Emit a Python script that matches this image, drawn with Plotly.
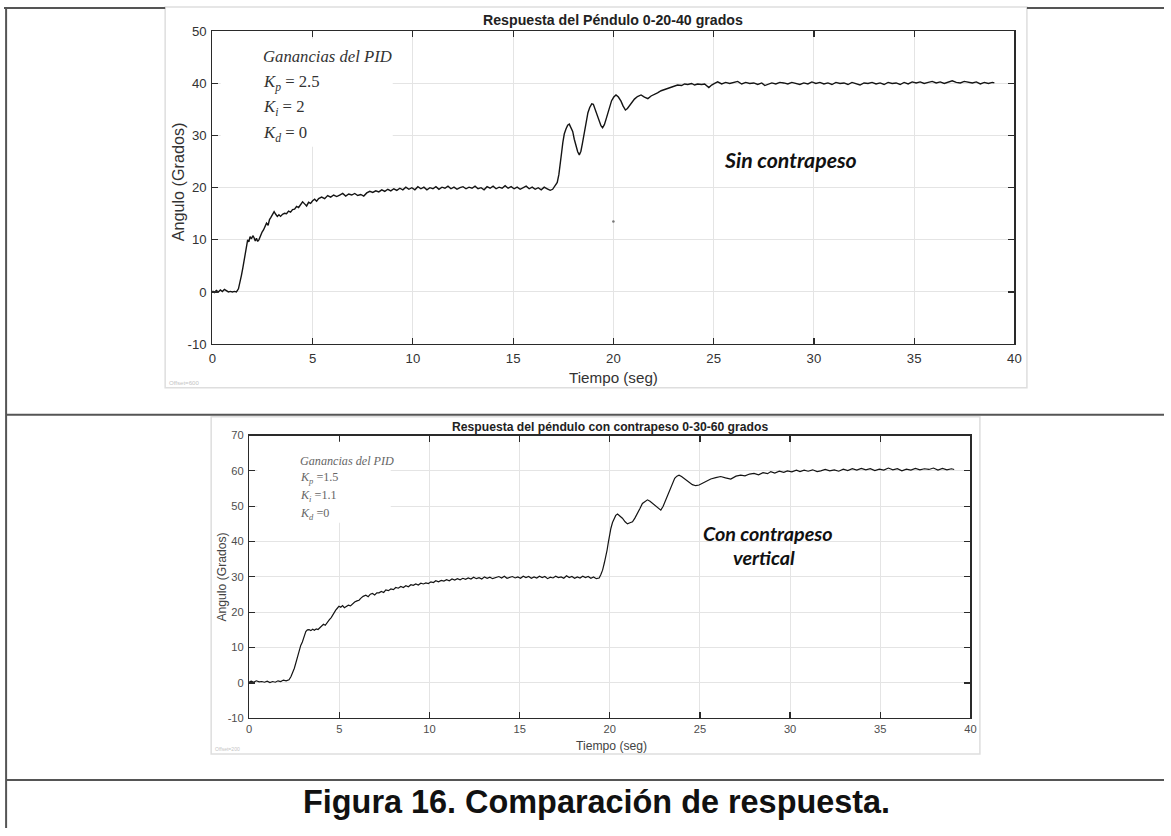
import plotly.graph_objects as go

W, H = 1171, 836

# ---------------- data ----------------
t_top = [0.00, 0.10, 0.20, 0.30, 0.40, 0.50, 0.60, 0.70, 0.80, 0.90, 1.00, 1.10, 1.20, 1.30, 1.38, 1.45,
         1.52, 1.58, 1.64, 1.70, 1.76, 1.82, 1.88, 1.95, 2.02, 2.08, 2.14, 2.20, 2.26, 2.32, 2.40, 2.48,
         2.55, 2.62, 2.70, 2.78, 2.85, 2.92, 3.00, 3.08, 3.16, 3.24, 3.32, 3.40, 3.50, 3.60, 3.70, 3.80,
         3.90, 4.00, 4.10, 4.20, 4.30, 4.40, 4.50, 4.60, 4.70, 4.80, 4.90, 5.00, 5.10, 5.20, 5.30, 5.45,
         5.60, 5.75, 5.90, 6.05, 6.20, 6.35, 6.50, 6.65, 6.80, 6.95, 7.10, 7.25, 7.40, 7.55, 7.70, 7.85,
         8.00, 8.15, 8.30, 8.45, 8.60, 8.75, 8.90, 9.05, 9.20, 9.35, 9.50, 9.65, 9.80, 9.95, 10.10, 10.25,
         10.40, 10.55, 10.70, 10.85, 11.00, 11.15, 11.30, 11.45, 11.60, 11.75, 11.90, 12.05, 12.20, 12.35,
         12.50, 12.65, 12.80, 12.95, 13.10, 13.25, 13.40, 13.55, 13.70, 13.85, 14.00, 14.15, 14.30, 14.45,
         14.60, 14.75, 14.90, 15.05, 15.20, 15.35, 15.50, 15.65, 15.80, 15.95, 16.10, 16.25, 16.40, 16.55,
         16.70, 16.85, 16.97, 17.10, 17.20, 17.28, 17.35, 17.42, 17.48, 17.55, 17.63, 17.72, 17.80, 17.88,
         17.97, 18.05, 18.13, 18.22, 18.30, 18.38, 18.46, 18.55, 18.64, 18.73, 18.82, 18.92, 19.00, 19.10,
         19.18, 19.28, 19.38, 19.46, 19.55, 19.64, 19.72, 19.82, 19.91, 20.02, 20.13, 20.25, 20.38, 20.48,
         20.60, 20.70, 20.80, 20.92, 21.05, 21.20, 21.38, 21.55, 21.72, 21.88, 22.05, 22.20, 22.38, 22.55,
         22.70, 22.88, 23.05, 23.20, 23.40, 23.55, 23.71, 23.90, 24.05, 24.20, 24.40, 24.55, 24.76, 24.90,
         25.05, 25.20, 25.40, 25.60, 25.80, 26.00, 26.20, 26.40, 26.60, 26.80, 27.00, 27.20, 27.40, 27.55,
         27.70, 27.90, 28.10, 28.30, 28.50, 28.70, 28.90, 29.10, 29.30, 29.50, 29.70, 29.90, 30.10, 30.30,
         30.50, 30.70, 30.90, 31.10, 31.30, 31.50, 31.70, 31.90, 32.10, 32.30, 32.50, 32.70, 32.90, 33.10,
         33.30, 33.50, 33.70, 33.90, 34.10, 34.30, 34.50, 34.70, 34.90, 35.10, 35.30, 35.50, 35.70, 35.90,
         36.10, 36.30, 36.50, 36.70, 36.90, 37.10, 37.30, 37.50, 37.70, 37.90, 38.10, 38.30, 38.50, 38.70,
         38.90, 39.00]
ang_top = [0.2, -0.1, 0.3, 0.0, 0.4, 0.1, 0.5, 0.2, 0.0, 0.1, 0.0, 0.1, 0.0, 0.6, 1.8, 3.2,
           4.6, 6.0, 7.6, 9.0, 10.0, 9.6, 10.6, 10.2, 10.8, 10.4, 9.8, 10.3, 9.7, 10.0, 10.8, 11.5,
           11.9, 12.6, 13.2, 12.8, 13.9, 14.3, 14.8, 15.4, 14.9, 14.5, 14.8, 14.5, 14.9, 15.1, 15.0, 15.5,
           15.3, 15.8, 15.9, 16.4, 16.2, 16.9, 17.3, 16.9, 16.5, 17.2, 17.0, 17.5, 17.8, 17.4, 17.9, 18.2,
           17.9, 18.5, 18.2, 18.6, 18.3, 18.6, 18.9, 18.4, 18.8, 18.6, 18.9, 18.5, 18.7, 18.4, 19.0, 19.3,
           19.1, 19.4, 19.2, 19.6, 19.3, 19.7, 19.4, 19.8, 19.5, 19.9, 19.6, 20.1, 19.7, 20.0, 19.6, 20.2,
           19.8, 20.1, 19.6, 20.0, 19.8, 20.2, 19.7, 20.1, 19.9, 20.3, 19.8, 20.1, 19.7, 20.0,
           20.2, 19.8, 20.1, 19.9, 20.3, 19.8, 20.0, 19.6, 20.2, 19.9, 20.3, 19.8, 20.1, 19.9,
           20.4, 19.9, 20.2, 19.8, 20.1, 19.7, 20.0, 20.3, 19.8, 20.1, 19.7, 20.0, 19.6, 20.1,
           19.8, 19.5, 19.7, 20.5, 21.0, 22.5, 24.2, 26.8, 28.7, 30.3, 31.2, 32.0, 32.2, 31.6,
           30.8, 29.3, 28.0, 26.9, 26.3, 27.0, 28.6, 30.8, 32.8, 34.4, 35.4, 36.1, 36.0, 35.0,
           34.2, 33.0, 31.9, 31.5, 32.1, 33.2, 34.4, 35.8, 36.7, 37.4, 37.8, 37.4, 36.6, 35.7,
           34.9, 35.2, 35.7, 36.3, 37.0, 37.5, 37.8, 37.4, 37.1, 37.6, 38.0, 38.2, 38.6, 38.8,
           39.0, 39.3, 39.4, 39.7, 39.6, 39.9, 39.8, 40.0, 39.7, 39.9, 39.8, 39.9, 39.2, 39.7,
           40.0, 40.3, 39.9, 40.2, 40.0, 40.2, 40.4, 39.9, 40.2, 40.0, 40.1, 39.8, 40.1, 39.6,
           39.8, 40.1, 39.9, 40.2, 40.1, 39.9, 40.2, 40.0, 39.8, 40.1, 39.9, 40.3, 40.0, 40.2,
           39.9, 40.1, 39.8, 40.2, 40.0, 40.1, 39.8, 40.2, 40.0, 39.7, 40.1, 40.0, 40.2, 39.9,
           40.1, 39.8, 40.2, 40.0, 40.1, 39.8, 40.2, 39.9, 40.3, 40.1, 40.3, 40.0, 40.2, 40.4,
           40.1, 40.3, 40.0, 40.2, 40.5, 40.2, 40.1, 40.4, 40.2, 40.1, 40.3, 39.9, 40.2, 40.0,
           40.2, 40.1]

t_bot = [0.00, 0.12, 0.25, 0.40, 0.55, 0.70, 0.85, 1.00, 1.15, 1.30, 1.45, 1.60, 1.75, 1.90, 2.05, 2.21,
         2.32, 2.40, 2.50, 2.58, 2.68, 2.77, 2.86, 2.95, 3.05, 3.14, 3.23, 3.32, 3.42, 3.52, 3.62, 3.72,
         3.82, 3.92, 4.02, 4.12, 4.22, 4.34, 4.45, 4.55, 4.63, 4.71, 4.80, 4.90, 4.98, 5.08, 5.18, 5.28,
         5.38, 5.50, 5.62, 5.72, 5.85, 5.98, 6.09, 6.20, 6.32, 6.47, 6.60, 6.72, 6.84, 6.96, 7.08, 7.20,
         7.33, 7.46, 7.58, 7.72, 7.86, 8.00, 8.13, 8.27, 8.41, 8.55, 8.69, 8.83, 8.97, 9.10, 9.24, 9.38,
         9.52, 9.66, 9.80, 9.94, 10.08, 10.22, 10.35, 10.50, 10.65, 10.80, 10.95, 11.10, 11.25, 11.40,
         11.55, 11.70, 11.85, 12.00, 12.15, 12.30, 12.45, 12.60, 12.75, 12.90, 13.05, 13.20, 13.35, 13.50,
         13.68, 13.85, 14.00, 14.15, 14.30, 14.45, 14.60, 14.75, 14.90, 15.05, 15.20, 15.35, 15.50, 15.65,
         15.80, 15.95, 16.10, 16.25, 16.40, 16.55, 16.70, 16.85, 17.00, 17.15, 17.30, 17.45, 17.60, 17.75,
         17.90, 18.05, 18.20, 18.35, 18.50, 18.65, 18.80, 18.95, 19.10, 19.25, 19.41, 19.50, 19.60, 19.70,
         19.78, 19.85, 19.91, 19.98, 20.06, 20.15, 20.24, 20.33, 20.43, 20.55, 20.70, 20.85, 20.98, 21.12,
         21.26, 21.40, 21.54, 21.68, 21.81, 21.95, 22.09, 22.23, 22.37, 22.51, 22.65, 22.83, 22.96, 23.10,
         23.24, 23.38, 23.50, 23.60, 23.72, 23.84, 23.98, 24.12, 24.26, 24.40, 24.58, 24.77, 24.95, 25.14,
         25.35, 25.60, 25.88, 26.15, 26.42, 26.71, 27.00, 27.26, 27.50, 27.75, 28.00, 28.25, 28.50, 28.75,
         28.93, 29.15, 29.40, 29.65, 29.85, 30.10, 30.35, 30.55, 30.78, 31.00, 31.25, 31.50, 31.70, 31.95,
         32.20, 32.45, 32.70, 32.95, 33.20, 33.45, 33.70, 33.95, 34.20, 34.45, 34.70, 34.95, 35.20, 35.45,
         35.70, 35.95, 36.20, 36.45, 36.70, 36.95, 37.20, 37.45, 37.70, 37.95, 38.20, 38.45, 38.70, 38.95,
         39.10]
ang_bot = [0.3, 0.5, 0.2, 0.6, 0.3, 0.4, 0.2, 0.5, 0.1, 0.4, 0.2, 0.6, 0.4, 0.8, 0.6, 0.9,
           1.8, 2.7, 4.1, 5.5, 7.5, 9.3, 10.6, 11.6, 13.2, 14.5, 15.0, 15.1, 14.8, 15.2, 14.9, 15.3,
           15.1, 15.6, 15.9, 16.6, 16.3, 17.3, 17.9, 18.5, 19.3, 19.7, 20.6, 21.2, 21.7, 21.4, 21.9, 21.3,
           21.6, 22.0, 21.8, 22.3, 22.9, 23.2, 23.4, 24.0, 24.5, 24.8, 24.4, 25.1, 25.3, 24.9, 25.5, 25.5,
           25.9, 25.6, 26.3, 26.1, 26.6, 26.4, 27.0, 26.8, 27.3, 27.0, 27.5, 27.2, 27.8, 27.6, 28.0, 27.7,
           28.2, 28.0, 28.3, 28.1, 28.6, 28.4, 28.9, 28.6, 29.0, 28.8, 29.2, 28.9, 29.4, 29.1,
           29.5, 29.2, 29.6, 29.3, 29.7, 29.4, 29.9, 29.5, 29.8, 29.4, 30.0, 29.6, 29.9, 29.5,
           29.8, 30.1, 29.7, 30.2, 29.6, 29.9, 30.1, 29.7, 30.0, 29.6, 30.2, 29.8, 30.1, 29.6,
           30.0, 29.7, 30.2, 29.8, 30.1, 29.5, 29.9, 29.7, 30.2, 29.8, 30.0, 29.6, 30.3, 29.8,
           30.1, 29.6, 30.0, 29.7, 30.2, 29.8, 30.1, 29.6, 30.0, 29.5, 29.7, 30.6, 31.9, 34.0,
           35.7, 37.6, 39.5, 41.6, 43.7, 45.4, 46.6, 47.4, 47.8, 47.3, 46.6, 45.6, 45.0, 45.3,
           45.6, 46.7, 47.9, 49.4, 50.8, 51.4, 51.8, 51.4, 50.8, 50.0, 49.4, 48.9, 50.0, 51.8,
           53.4, 55.1, 56.6, 57.9, 58.5, 58.8, 58.4, 57.9, 57.2, 56.7, 56.1, 55.8, 56.0, 56.5,
           57.0, 57.7, 58.1, 58.4, 58.0, 57.7, 58.5, 58.8, 58.6, 59.1, 59.3, 58.9, 59.5, 59.2,
           59.8, 59.4, 59.9, 59.6, 60.0, 59.7, 60.2, 59.8, 60.2, 59.9, 60.3, 59.8, 60.0, 60.4,
           60.0, 60.3, 59.9, 60.5, 60.1, 60.6, 60.2, 60.7, 60.3, 60.6, 60.1, 60.5, 60.2, 60.8,
           60.3, 60.6, 60.0, 60.5, 60.2, 60.7, 60.3, 60.6, 60.4, 60.8, 60.2, 60.7, 60.3, 60.6,
           60.4]

stray_t = [20.0]
stray_ang = [13.5]

x_ticks = [0, 5, 10, 15, 20, 25, 30, 35, 40]
x_tick_labels = ["0", "5", "10", "15", "20", "25", "30", "35", "40"]
y_ticks_top = [-10, 0, 10, 20, 30, 40, 50]
y_tick_labels_top = ["-10", "0", "10", "20", "30", "40", "50"]
y_ticks_bot = [-10, 0, 10, 20, 30, 40, 50, 60, 70]
y_tick_labels_bot = ["-10", "0", "10", "20", "30", "40", "50", "60", "70"]

title_top = "Respuesta del Péndulo 0-20-40 grados"
title_bot = "Respuesta del péndulo con contrapeso 0-30-60 grados"
xlabel = "Tiempo (seg)"
ylabel = "Angulo (Grados)"
gains_top = ["<i>Ganancias del PID</i>", "<i>K</i><sub><i>p</i></sub> = 2.5",
             "<i>K</i><sub><i>i</i></sub> = 2", "<i>K</i><sub><i>d</i></sub> = 0"]
gains_bot = ["<i>Ganancias del PID</i>", "<i>K</i><sub><i>p</i></sub> =1.5",
             "<i>K</i><sub><i>i</i></sub> =1.1", "<i>K</i><sub><i>d</i></sub> =0"]
note_top = ["Sin contrapeso"]
note_bot = ["Con contrapeso", "vertical"]
caption = "Figura 16. Comparación de respuesta."

# ---------------- helpers: picture pixel -> paper ----------------
# the photographed page shows a small fixed inset/scale; compensate for it
SX, OX = 0.9903, 3.4
SY, OY = 0.9816, 7.37
FS = 1.013


def px(x):
    return ((x - OX) / SX) / W


def py(y):
    return 1 - ((y - OY) / SY) / H


def fs(s):
    return round(s * FS, 2)


ARIAL = "Arial, 'Liberation Sans', sans-serif"
TIMES = "'Liberation Serif', 'Times New Roman', serif"
CALI = "Lato, 'Open Sans', sans-serif"

fig = go.Figure()
fig.add_trace(go.Scatter(x=t_top, y=ang_top, mode="lines", xaxis="x", yaxis="y",
                         line=dict(color="#141414", width=1.4), showlegend=False, hoverinfo="skip"))
fig.add_trace(go.Scatter(x=stray_t, y=stray_ang, mode="markers", xaxis="x", yaxis="y",
                         marker=dict(color="#777", size=2.5), showlegend=False, hoverinfo="skip"))
fig.add_trace(go.Scatter(x=t_bot, y=ang_bot, mode="lines", xaxis="x2", yaxis="y2",
                         line=dict(color="#141414", width=1.2), showlegend=False, hoverinfo="skip"))


def axis_common(size, color, standoff):
    return dict(showgrid=True, gridcolor="#e4e4e4", gridwidth=1, zeroline=False,
                showline=True, linecolor="#2a2a2a", linewidth=1.2, mirror="ticks",
                ticks="inside", ticklen=6, tickcolor="#2a2a2a", tickwidth=1.2,
                tickfont=dict(family=ARIAL, size=fs(size), color=color),
                ticklabelstandoff=standoff, fixedrange=True)


fig.update_layout(
    width=W, height=H, margin=dict(l=0, r=0, t=0, b=0), autosize=False,
    paper_bgcolor="white", plot_bgcolor="white",
    xaxis=dict(domain=[px(211.7), px(1013.5)], range=[0, 40], tickvals=x_ticks, ticktext=x_tick_labels,
               anchor="y", **axis_common(13, "#333", 2)),
    yaxis=dict(domain=[py(344.3), py(31.7)], range=[-10, 50], tickvals=y_ticks_top, ticktext=y_tick_labels_top,
               anchor="x", **axis_common(13, "#333", 2)),
    xaxis2=dict(domain=[px(248.5), px(969.5)], range=[0, 40], tickvals=x_ticks, ticktext=x_tick_labels,
                anchor="y2", **axis_common(11, "#4d4d4d", 0)),
    yaxis2=dict(domain=[py(718.3), py(435.7)], range=[-10, 70], tickvals=y_ticks_bot, ticktext=y_tick_labels_bot,
                anchor="x2", **axis_common(11, "#4d4d4d", 2)),
)

shapes = []
# image panels (light frames)
shapes.append(dict(type="rect", xref="paper", yref="paper", x0=px(164.5), x1=px(1026), y0=py(388), y1=min(1.0, py(7)),
                   line=dict(color="#dedede", width=1.5), fillcolor="rgba(0,0,0,0)", layer="below"))
shapes.append(dict(type="rect", xref="paper", yref="paper", x0=px(210.5), x1=px(979), y0=py(754), y1=py(417),
                   line=dict(color="#dedede", width=1.5), fillcolor="rgba(0,0,0,0)", layer="below"))
# table lines
tbl = dict(color="#555", width=2)
top_y = min(py(6.5), 0.9988)
left_x = max(px(5.5), 0.0009)
shapes.append(dict(type="line", xref="paper", yref="paper", x0=0, x1=px(164.5), y0=top_y, y1=top_y, line=tbl))
shapes.append(dict(type="line", xref="paper", yref="paper", x0=px(1026), x1=1, y0=top_y, y1=top_y, line=tbl))
shapes.append(dict(type="line", xref="paper", yref="paper", x0=left_x, x1=left_x, y0=0, y1=top_y, line=tbl))
shapes.append(dict(type="line", xref="paper", yref="paper", x0=left_x, x1=1, y0=py(415), y1=py(415), line=tbl))
shapes.append(dict(type="line", xref="paper", yref="paper", x0=left_x, x1=1, y0=py(780), y1=py(780), line=tbl))
# white boxes behind gain text
shapes.append(dict(type="rect", xref="paper", yref="paper", x0=px(220), x1=px(392), y0=py(147), y1=py(39),
                   line=dict(width=0), fillcolor="white", layer="above"))
shapes.append(dict(type="rect", xref="paper", yref="paper", x0=px(256.7), x1=px(390), y0=py(523), y1=py(442),
                   line=dict(width=0), fillcolor="white", layer="above"))
fig.update_layout(shapes=shapes)

ann = []


def text(x, y, s, size, family=ARIAL, color="#222", xanchor="center", angle=0):
    ann.append(dict(x=px(x), y=py(y), xref="paper", yref="paper", text=s, showarrow=False,
                    xanchor=xanchor, yanchor="middle", textangle=angle,
                    font=dict(family=family, size=fs(size), color=color)))


# top chart texts
text(612.6, 20, "<b>" + title_top + "</b>", 14)
text(612.6, 377.7, xlabel, 15, color="#333")
text(177, 182, ylabel, 16, color="#333", angle=-90)
for s, yy in zip(gains_top, [57, 83, 108, 134]):
    text(260, yy, s, 16.5, family=TIMES, color="#333", xanchor="left")
text(790, 160.7, "<b><i>" + note_top[0] + "</i></b>", 21, family=CALI, color="#111")
text(166, 383, "Offset=600", 6, color="#c4c4c4", xanchor="left")

# bottom chart texts
text(609.5, 426.7, "<b>" + title_bot + "</b>", 12)
text(610.5, 746, xlabel, 12, color="#444")
text(221, 577, ylabel, 12, color="#444", angle=-90)
for s, yy in zip(gains_bot, [460.7, 478, 495.7, 514.3]):
    text(297.7, yy, s, 12, family=TIMES, color="#666", xanchor="left")
text(767, 533.3, "<b><i>" + note_bot[0] + "</i></b>", 19.5, family=CALI, color="#111")
text(763, 557.7, "<b><i>" + note_bot[1] + "</i></b>", 19.5, family=CALI, color="#111")
text(212, 749, "Offset=200", 5, color="#c4c4c4", xanchor="left")

# caption
text(596, 802, "<b>" + caption + "</b>", 32, color="#111")

fig.update_layout(annotations=ann)

fig.write_html("out.html", config={"displayModeBar": False, "staticPlot": True},
               post_script="document.body.style.margin='0';document.body.style.overflow='hidden';")
